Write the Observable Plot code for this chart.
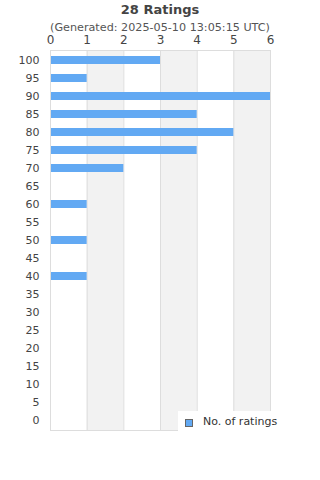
<!DOCTYPE html>
<html>
<head>
<meta charset="utf-8">
<script src="https://cdn.jsdelivr.net/npm/d3@7"></script>
<script src="https://cdn.jsdelivr.net/npm/@observablehq/plot@0.6"></script>
<style>
  html, body { margin: 0; padding: 0; background: #fff; }
  #wrap { position: relative; width: 320px; height: 480px; font-family: "DejaVu Sans", sans-serif; }
  #wrap svg { position: absolute; left: 0; top: 0; }
  .title { position: absolute; left: 0; width: 320px; text-align: center; top: 2px; font-size: 13px; font-weight: bold; color: #444; }
  .subtitle { position: absolute; left: 0; width: 320px; text-align: center; top: 21px; font-size: 11.2px; color: #555; }
  .legend { position: absolute; left: 178px; top: 411px; width: 112px; height: 20px; background: #fff; font-size: 11px; color: #333; }
  .legend .sw { position: absolute; left: 7px; top: 8px; width: 6px; height: 6px; background: #62a9f3; border: 1px solid #666; }
  .legend .lb { position: absolute; left: 25px; top: 4px; }
</style>
</head>
<body>
<div id="wrap">
  <div class="title">28 Ratings</div>
  <div class="subtitle">(Generated: 2025-05-10 13:05:15 UTC)</div>
</div>
<script>
const categories = ["100","95","90","85","80","75","70","65","60","55","50","45","40","35","30","25","20","15","10","5","0"];
const counts =     [3, 1, 6, 4, 5, 4, 2, 0, 1, 0, 1, 0, 1, 0, 0, 0, 0, 0, 0, 0, 0];
const xTicks = [0, 1, 2, 3, 4, 5, 6];
const shadedBands = [[1, 2], [3, 4], [5, 6]];
const seriesName = "No. of ratings";
const barColor = "#62a9f3";

const rows = categories.map((c, i) => ({category: c, count: counts[i]}));

const chart = Plot.plot({
  width: 320,
  height: 480,
  marginTop: 50,
  marginBottom: 50,
  marginLeft: 50,
  marginRight: 50,
  style: {fontFamily: "DejaVu Sans, sans-serif", fontSize: "11px", color: "#444", background: "transparent"},
  x: {domain: [0, 6], label: null},
  y: {domain: categories, padding: 0, label: null},
  marks: [
    Plot.rect(shadedBands, {x1: d => d[0], x2: d => d[1], fill: "#f2f2f2"}),
    Plot.ruleX(xTicks, {stroke: "#dddddd"}),
    Plot.barX(rows.filter(d => d.count > 0), {x: "count", y: "category", fill: barColor, insetTop: 5, insetBottom: 5}),
    Plot.frame({stroke: "#dddddd"}),
    Plot.axisX({anchor: "top", ticks: xTicks, tickSize: 0, tickPadding: 7, fontSize: 12, tickFormat: d3.format("d"), label: null}),
    Plot.axisY({anchor: "left", tickSize: 0, tickPadding: 11, fontSize: 11, label: null})
  ]
});
document.getElementById("wrap").appendChild(chart);

const legend = document.createElement("div");
legend.className = "legend";
legend.innerHTML = '<div class="sw"></div><div class="lb"></div>';
legend.querySelector(".lb").textContent = seriesName;
document.getElementById("wrap").appendChild(legend);
</script>
</body>
</html>
